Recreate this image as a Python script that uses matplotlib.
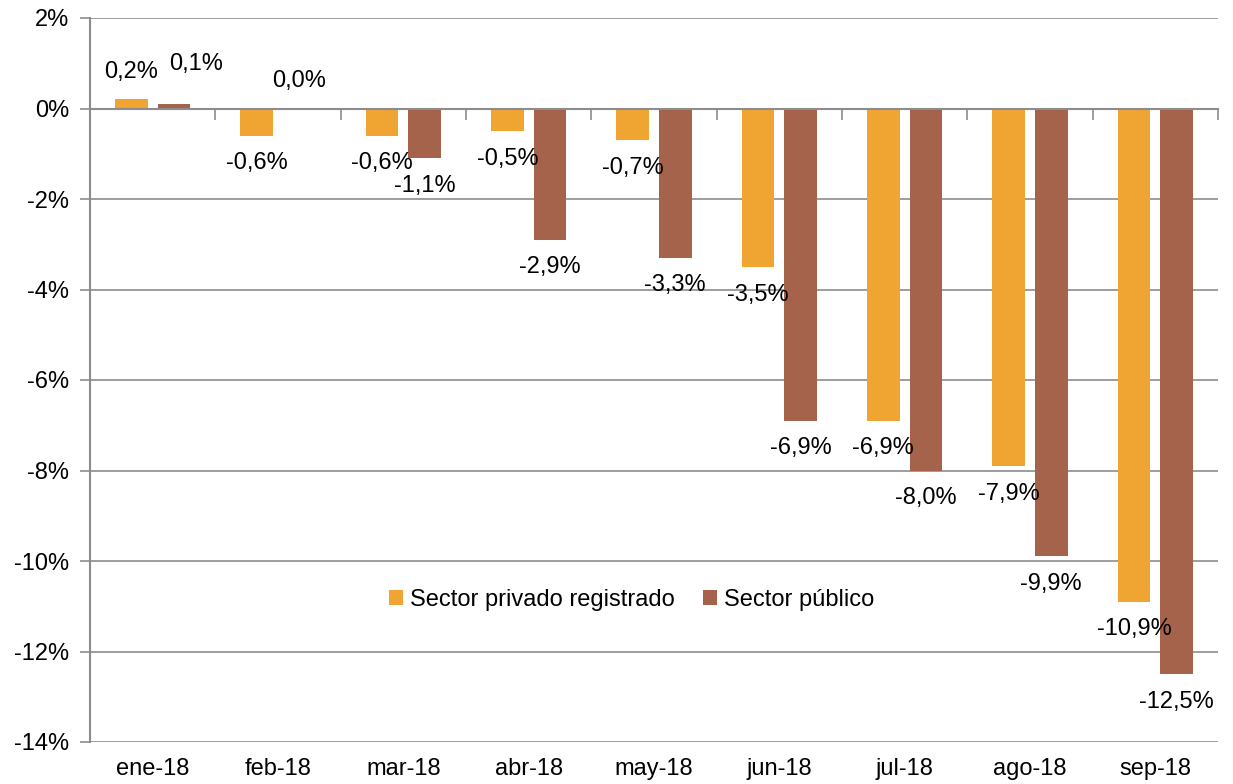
import numpy as np
import matplotlib.pyplot as plt
from matplotlib.ticker import FixedLocator

plt.rcParams['font.family'] = ['Liberation Sans', 'DejaVu Sans']

# Daten
meses = ['ene-18', 'feb-18', 'mar-18', 'abr-18', 'may-18', 'jun-18', 'jul-18', 'ago-18', 'sep-18']
privado = [0.2, -0.6, -0.6, -0.5, -0.7, -3.5, -6.9, -7.9, -10.9]
publico = [0.1, 0.0, -1.1, -2.9, -3.3, -6.9, -8.0, -9.9, -12.5]

c_priv = '#F0A432'
c_pub = '#A5634B'
gris = '#8c8c8c'
fs = 17

fig = plt.figure(figsize=(12.33, 7.84), dpi=100)
ax = fig.add_axes([90/1233, 42/784, (1218-90)/1233, (742-18)/784])

x = np.arange(len(meses))
w = 0.26
off = 0.17
ax.bar(x - off, privado, w, color=c_priv, label='Sector privado registrado', zorder=3)
ax.bar(x + off, publico, w, color=c_pub, label='Sector público', zorder=3)

ax.set_xlim(-0.5, len(meses) - 0.5)
ax.set_ylim(-14, 2)
ax.set_yticks(np.arange(-14, 3, 2))
ax.set_yticklabels(['%d%%' % v for v in np.arange(-14, 3, 2)], fontsize=fs)
ax.yaxis.grid(True, color=gris, lw=1.2, zorder=0)

# x-Achse auf der Nulllinie, Striche an den Kategoriegrenzen
ax.spines['bottom'].set_position(('data', 0))
ax.spines['bottom'].set_color(gris)
ax.spines['bottom'].set_linewidth(1.5)
ax.spines['bottom'].set_zorder(4)
ax.xaxis.set_major_locator(FixedLocator(np.arange(-0.5, len(meses), 1.0)))
ax.tick_params(axis='x', length=8, width=1.2, color=gris, labelbottom=False)
ax.tick_params(axis='y', length=7, width=1.2, color=gris, pad=8)
ax.spines['left'].set_color(gris)
ax.spines['left'].set_linewidth(1.5)
ax.spines['top'].set_visible(False)
ax.spines['right'].set_visible(False)

# Kategorien unten
for i, m in enumerate(meses):
    ax.text(i, -0.022, m, transform=ax.get_xaxis_transform(), ha='center', va='top', fontsize=fs)

# Datenbeschriftungen
def fmt(v):
    return ('%.1f%%' % v).replace('.', ',')

for serie, (xs, vals) in enumerate([(x - off, privado), (x + off, publico)]):
    for i, (xi, v) in enumerate(zip(xs, vals)):
        if v >= 0:
            dx, dy = 0, 12
            if serie == 1 and i == 0:
                dx, dy = 16, 21  # verschoben wie im Original
            ax.annotate(fmt(v), (xi, v), xytext=(dx, dy), textcoords='offset points',
                        ha='center', va='bottom', fontsize=fs, zorder=5)
        else:
            ax.annotate(fmt(v), (xi, v), xytext=(0, -12), textcoords='offset points',
                        ha='center', va='top', fontsize=fs, zorder=5)

ax.legend(loc='center', bbox_to_anchor=(0.48, 0.196), ncol=2, frameon=False, fontsize=fs,
          handlelength=0.6, handleheight=0.6, handletextpad=0.3, columnspacing=1.2)

plt.savefig('out.png', dpi=100)
